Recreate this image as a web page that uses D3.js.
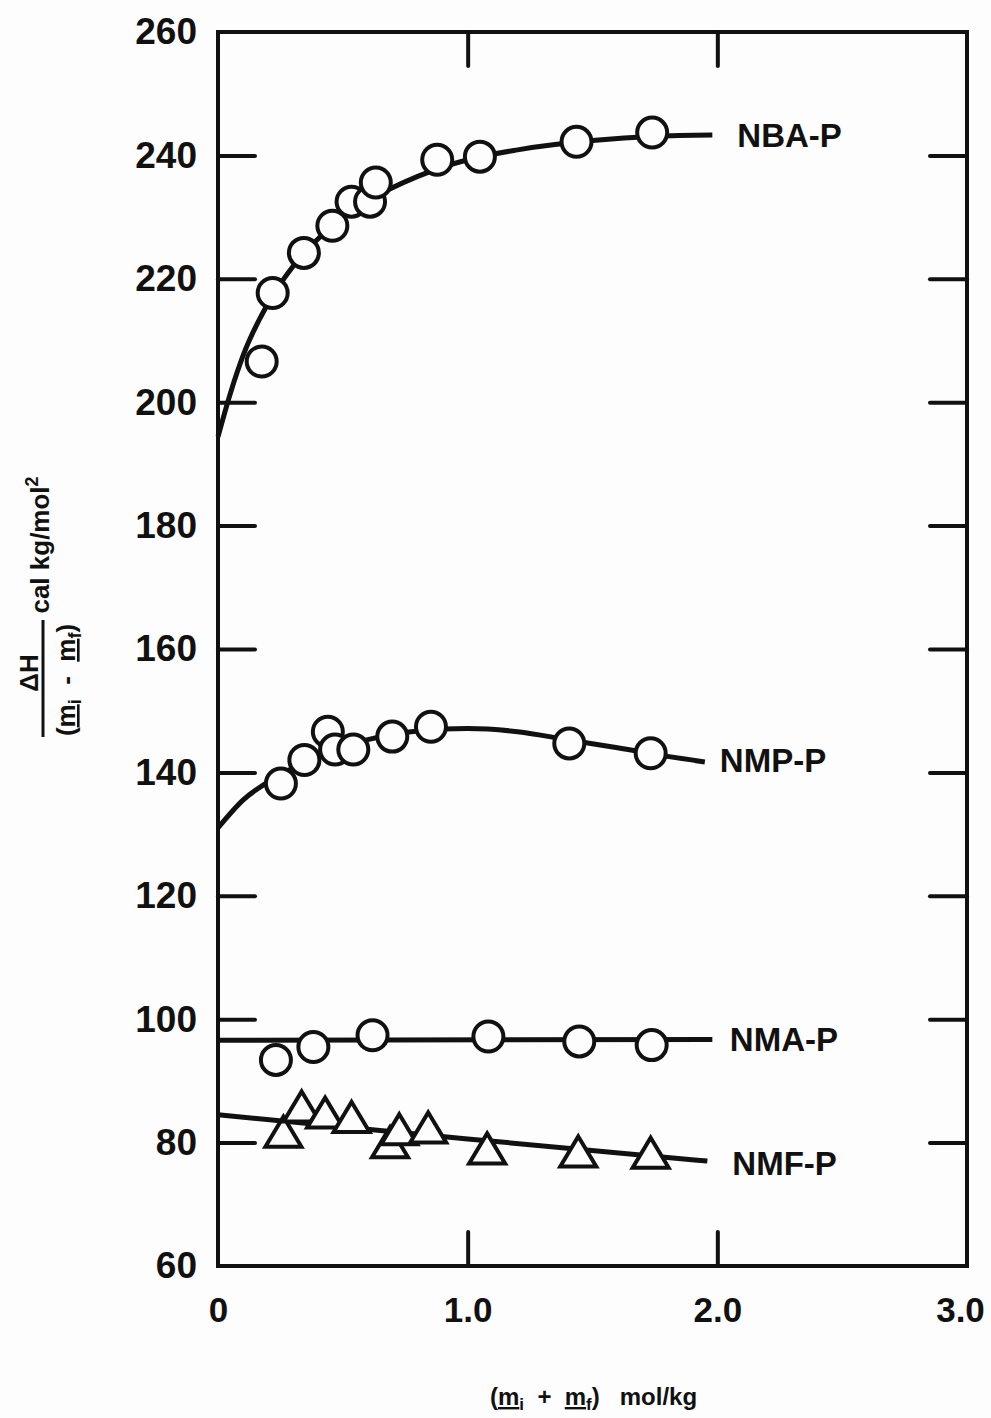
<!DOCTYPE html>
<html>
<head>
<meta charset="UTF-8">
<title>Heat of dilution</title>
<script src="https://d3js.org/d3.v7.min.js"></script>
<style>
  body { margin: 0; background: #fdfdfd; }
  svg { display: block; }
  text { font-family: "Liberation Sans", Arial, sans-serif; font-weight: bold; fill: #111; }
  .tick line { stroke: #111; stroke-width: 4; stroke-linecap: round; }
  .domain { display: none; }
  .fit { fill: none; stroke: #111; stroke-width: 5; }
  .pt { fill: #fdfdfd; stroke: #111; stroke-width: 4; }
</style>
</head>
<body>
<script>
// tick values
var xTicks = [0, 1.0, 2.0, 3.0];
var xTickLabels = ["0", "1.0", "2.0", "3.0"];
var yTicks = [60, 80, 100, 120, 140, 160, 180, 200, 220, 240, 260];

// measured points (x in mol/kg, y in cal kg/mol^2)
var nbaX = [0.175, 0.219, 0.344, 0.458, 0.535, 0.609, 0.632, 0.878, 1.049, 1.436, 1.739];
var nbaY = [206.6, 217.7, 224.2, 228.6, 232.5, 232.5, 235.6, 239.3, 239.8, 242.2, 243.7];

var nmpX = [0.252, 0.346, 0.440, 0.469, 0.542, 0.698, 0.853, 1.407, 1.733];
var nmpY = [138.2, 142.0, 146.6, 143.7, 143.7, 145.8, 147.4, 144.7, 143.1];

var nmaX = [0.232, 0.382, 0.619, 1.083, 1.447, 1.737];
var nmaY = [93.4, 95.5, 97.4, 97.2, 96.4, 95.8];

var nmfX = [0.262, 0.335, 0.429, 0.535, 0.689, 0.726, 0.842, 1.078, 1.443, 1.733];
var nmfY = [81.6, 85.7, 84.7, 84.0, 79.9, 82.0, 82.3, 78.9, 78.4, 78.2];

// fitted curves as drawn
var nbaFitX = [0, 0.05, 0.1, 0.2, 0.3, 0.45, 0.6, 0.8, 1.0, 1.2, 1.5, 1.75, 1.98];
var nbaFitY = [194.4, 201.5, 207.5, 216.0, 222.0, 228.3, 232.6, 236.6, 239.3, 240.9, 242.4, 243.1, 243.3];

var nmpFitX = [0, 0.1, 0.25, 0.4, 0.6, 0.8, 1.0, 1.2, 1.4, 1.6, 1.8, 1.95];
var nmpFitY = [131.0, 135.5, 139.6, 142.6, 145.3, 146.7, 147.1, 146.6, 145.3, 144.0, 142.6, 141.7];

var nmaFitX = [0, 1.98];
var nmaFitY = [96.6, 96.7];

var nmfFitX = [0, 1.0, 1.96];
var nmfFitY = [84.5, 80.6, 77.0];

var seriesNames = ["NBA-P", "NMP-P", "NMA-P", "NMF-P"];
var labelX = [2.08, 2.01, 2.05, 2.06];
var labelY = [243.3, 142.0, 96.8, 76.6];

var W = 991, H = 1418;
var svg = d3.select("body").append("svg").attr("width", W).attr("height", H);

var x = d3.scaleLinear().domain([0, 3]).range([218, 967]);
var y = d3.scaleLinear().domain([60, 260]).range([1266, 32]);

function zip(a, b) { return a.map(function (v, i) { return [v, b[i]]; }); }

// frame
svg.append("rect")
  .attr("x", x(0)).attr("y", y(260))
  .attr("width", x(3) - x(0)).attr("height", y(60) - y(260))
  .attr("fill", "none").attr("stroke", "#111").attr("stroke-width", 4);

// axes (inward ticks)
var yInner = yTicks.slice(1, -1);
svg.append("g").attr("transform", "translate(" + x(0) + ",0)")
  .call(d3.axisLeft(y).tickValues(yTicks).tickSize(-37).tickPadding(21))
  .call(function (g) {
    g.selectAll(".tick line").filter(function (d) { return d === 60 || d === 260; }).remove();
    g.selectAll("text").attr("font-size", 37);
  });
svg.append("g").attr("transform", "translate(" + x(3) + ",0)")
  .call(d3.axisRight(y).tickValues(yInner).tickSize(-37).tickFormat(""));
svg.append("g").attr("transform", "translate(0," + y(60) + ")")
  .call(d3.axisBottom(x).tickValues(xTicks).tickSize(-34).tickPadding(31)
    .tickFormat(function (d, i) { return xTickLabels[i]; }))
  .call(function (g) {
    g.selectAll(".tick line").filter(function (d) { return d === 0 || d === 3; }).remove();
    g.selectAll("text").attr("font-size", 35)
      .attr("dx", function (d) { return d === 3 ? -7 : 0; });
  });
svg.append("g").attr("transform", "translate(0," + y(260) + ")")
  .call(d3.axisTop(x).tickValues([1, 2]).tickSize(-34).tickFormat(""));

// fit lines
var line = d3.line().x(function (d) { return x(d[0]); }).y(function (d) { return y(d[1]); })
  .curve(d3.curveMonotoneX);
[[nbaFitX, nbaFitY], [nmpFitX, nmpFitY], [nmaFitX, nmaFitY], [nmfFitX, nmfFitY]].forEach(function (s) {
  svg.append("path").attr("class", "fit").attr("d", line(zip(s[0], s[1])));
});

// circles
[[nbaX, nbaY], [nmpX, nmpY], [nmaX, nmaY]].forEach(function (s) {
  svg.append("g").selectAll("circle").data(zip(s[0], s[1])).enter().append("circle")
    .attr("class", "pt")
    .attr("cx", function (d) { return x(d[0]); })
    .attr("cy", function (d) { return y(d[1]); })
    .attr("r", 15);
});

// triangles
var tri = "M0,-16L18,14L-18,14Z";
svg.append("g").selectAll("path").data(zip(nmfX, nmfY)).enter().append("path")
  .attr("class", "pt")
  .attr("stroke-linejoin", "miter")
  .attr("d", tri)
  .attr("transform", function (d) { return "translate(" + x(d[0]) + "," + y(d[1]) + ")"; });

// series labels
svg.append("g").selectAll("text").data(seriesNames).enter().append("text")
  .attr("x", function (d, i) { return x(labelX[i]); })
  .attr("y", function (d, i) { return y(labelY[i]); })
  .attr("dy", "0.36em")
  .attr("font-size", 33)
  .text(function (d) { return d; });

// x axis title
var xt = svg.append("text").attr("x", 490).attr("y", 1405)
  .attr("font-size", 24)
  .style("white-space", "pre");
xt.append("tspan").text("(");
xt.append("tspan").attr("text-decoration", "underline").text("m");
xt.append("tspan").attr("font-size", 17).attr("dy", 5).text("i");
xt.append("tspan").attr("dy", -5).text("  +  ");
xt.append("tspan").attr("text-decoration", "underline").text("m");
xt.append("tspan").attr("font-size", 17).attr("dy", 5).text("f");
xt.append("tspan").attr("dy", -5).text(")   mol/kg");

// y axis title (rotated fraction)
var yl = svg.append("g").attr("transform", "rotate(-90)");
yl.append("text").attr("x", -673).attr("y", 38).attr("text-anchor", "middle")
  .attr("font-size", 26).text("\u0394H");
yl.append("line").attr("x1", -737).attr("x2", -620).attr("y1", 43).attr("y2", 43)
  .attr("stroke", "#111").attr("stroke-width", 3);
var den = yl.append("text").attr("x", -680).attr("y", 75).attr("text-anchor", "middle")
  .attr("font-size", 26).style("white-space", "pre");
den.append("tspan").text("(");
den.append("tspan").attr("text-decoration", "underline").text("m");
den.append("tspan").attr("font-size", 18).attr("dy", 6).text("i");
den.append("tspan").attr("dy", -6).text("  -  ");
den.append("tspan").attr("text-decoration", "underline").text("m");
den.append("tspan").attr("font-size", 18).attr("dy", 6).text("f");
den.append("tspan").attr("dy", -6).text(")");
var un = yl.append("text").attr("x", -545).attr("y", 49).attr("text-anchor", "middle")
  .attr("font-size", 26);
un.append("tspan").text("cal kg/mol");
un.append("tspan").attr("font-size", 18).attr("dy", -11).text("2");
</script>
</body>
</html>
